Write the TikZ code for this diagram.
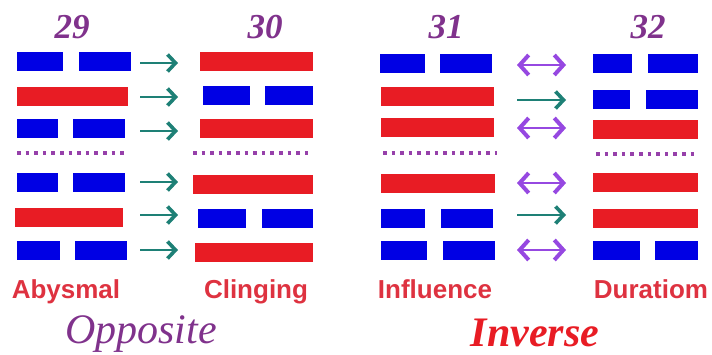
\documentclass[tikz,border=0pt]{standalone}
\usepackage{fontspec}
\setmainfont{Liberation Serif}
\setsansfont{Liberation Sans}
\usetikzlibrary{arrows.meta}

\definecolor{yangred}{RGB}{232,28,36}
\definecolor{yinblue}{RGB}{0,0,228}
\definecolor{dotpurple}{RGB}{150,64,170}
\definecolor{numpurple}{RGB}{128,50,140}
\definecolor{arrteal}{RGB}{30,128,118}
\definecolor{arrviolet}{RGB}{150,72,225}
\definecolor{namered}{RGB}{222,50,64}

\tikzset{
  bar/.style={rectangle,inner sep=0pt,minimum height=19pt,anchor=west},
  yang/.style={bar,fill=yangred},
  yin/.style={bar,fill=yinblue},
  sepline/.style={draw=dotpurple,line width=3.6pt,dash pattern=on 3.6pt off 5pt},
  onearr/.style={draw=arrteal,line width=2.8pt,
    -{Straight Barb[length=8pt,width=17pt,line width=3.6pt]}},
  twoarr/.style={draw=arrviolet,line width=2.6pt,
    {Straight Barb[length=9pt,width=20pt,line width=4pt]}-{Straight Barb[length=9pt,width=20pt,line width=4pt]}},
  numlab/.style={anchor=base,text=numpurple,font=\fontsize{35}{35}\selectfont\bfseries\itshape},
  namelab/.style={anchor=base,text=namered,font=\fontsize{26}{26}\selectfont\sffamily\bfseries},
}

% #1 name, #2 x, #3 width, #4 y
\newcommand{\yangbar}[4]{\node[yang,minimum width=#3] (#1) at (#2,#4) {};}
% #1 name, #2 x left, #3 width, #4 x right, #5 width, #6 y
\newcommand{\yinbar}[6]{%
  \node[yin,minimum width=#3] (#1l) at (#2,#6) {};
  \node[yin,minimum width=#5] (#1r) at (#4,#6) {};}

\begin{document}
\begin{tikzpicture}[x=1pt,y=-1pt]
  \useasboundingbox (0,0) rectangle (712,354);
%
  % hexagram 29
  \node[numlab] (n29) at (72,38) {29};
  \yinbar{h29a}{17}{46}{79}{52}{61}
  \yangbar{h29b}{17}{111}{96.5}
  \yinbar{h29c}{17}{41}{73}{52}{128}
  \yinbar{h29d}{17}{41}{73}{52}{182.5}
  \yangbar{h29e}{15}{108}{217}
  \yinbar{h29f}{17}{43}{75}{52}{250}
  \node[namelab] (abysmal) at (66,298) {Abysmal};
%
  % hexagram 30
  \node[numlab] (n30) at (265,38) {30};
  \yangbar{h30a}{200}{113}{61.5}
  \yinbar{h30b}{203}{47}{265}{48}{95.5}
  \yangbar{h30c}{200}{113}{128}
  \yangbar{h30d}{193}{120}{184}
  \yinbar{h30e}{198}{48}{262}{51}{218}
  \yangbar{h30f}{195}{118}{252}
  \node[namelab] (clinging) at (256,298) {Clinging};
%
  % hexagram 31
  \node[numlab] (n31) at (446,38) {31};
  \yinbar{h31a}{380}{45}{440}{52}{63}
  \yangbar{h31b}{381}{113}{96.5}
  \yangbar{h31c}{381}{113}{127.5}
  \yangbar{h31d}{381}{114}{183}
  \yinbar{h31e}{381}{44}{441}{52}{218}
  \yinbar{h31f}{381}{46}{443}{52}{250}
  \node[namelab] (influence) at (435,298) {Influence};
%
  % hexagram 32
  \node[numlab] (n32) at (648,38) {32};
  \yinbar{h32a}{593}{39}{648}{50}{63}
  \yinbar{h32b}{593}{37}{646}{52}{99}
  \yangbar{h32c}{593}{105}{129}
  \yangbar{h32d}{593}{105}{182.5}
  \yangbar{h32e}{593}{105}{218.5}
  \yinbar{h32f}{593}{47}{655}{43}{250.5}
  \node[namelab] (duratiom) at (651,298) {Duratiom};
%
  % trigram separators
  \coordinate (s29w) at (17,153);  \coordinate (s29e) at (128,153);
  \coordinate (s30w) at (193,153); \coordinate (s30e) at (313,153);
  \coordinate (s31w) at (383,153); \coordinate (s31e) at (497,153);
  \coordinate (s32w) at (596,154); \coordinate (s32e) at (698,154);
  \foreach \h in {29,30,31,32}
    \draw[sepline] (s\h w) -- (s\h e);
%
  % line by line arrows
  \foreach \i/\y in {1/63,2/97,3/131,4/182,5/215,6/250} {
    \coordinate (opp\i-s) at (140,\y);
    \coordinate (opp\i-e) at (178,\y);
    \draw[onearr] (opp\i-s) -- (opp\i-e);
  }
  \foreach \i/\y/\k in {1/65/twoarr,2/100/onearr,3/128/twoarr,4/183/twoarr,5/215/onearr,6/250/twoarr} {
    \coordinate (inv\i-s) at (517,\y);
    \coordinate (inv\i-e) at (566,\y);
    \draw[\k] (inv\i-s) -- (inv\i-e);
  }
%
  \node[anchor=base,text=numpurple,font=\fontsize{42}{42}\selectfont\itshape] (opposite) at (141,343) {Opposite};
  \node[anchor=base,text=yangred,font=\fontsize{42}{42}\selectfont\bfseries\itshape] (inverse) at (535,346) {Inverse};
\end{tikzpicture}
\end{document}
